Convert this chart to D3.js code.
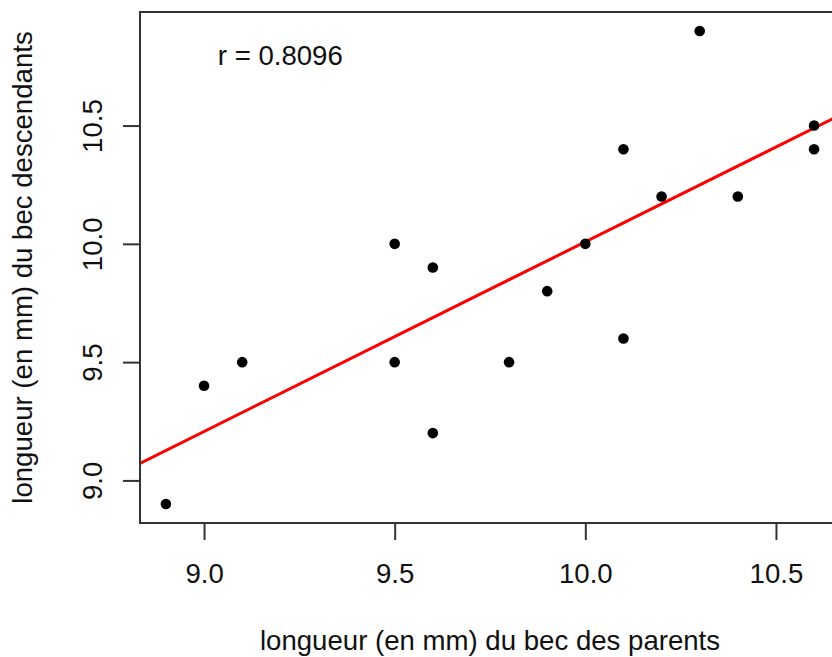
<!DOCTYPE html>
<html>
<head>
<meta charset="utf-8">
<script src="https://cdn.jsdelivr.net/npm/d3@7"></script>
<style>
  body { margin: 0; background: #fff; }
  svg { display: block; font-family: "Liberation Sans", Arial, sans-serif; }
</style>
</head>
<body>
<script>
const WIDTH = 832;
const HEIGHT = 657;
const LEFT = 140, RIGHT = 840, TOP = 12, BOTTOM = 523;
const FONT = 27.6;

// longueur du bec : parents (x) / descendants (y)
var parents =     [8.9, 9.0, 9.1, 9.5, 9.5,  9.6, 9.6, 9.8, 9.9, 10.0, 10.1, 10.1, 10.2, 10.3, 10.4, 10.6, 10.6];
var descendants = [8.9, 9.4, 9.5, 10.0, 9.5, 9.9, 9.2, 9.5, 9.8, 10.0, 10.4, 9.6, 10.2, 10.9, 10.2, 10.5, 10.4];
var xTicks = [9.0, 9.5, 10.0, 10.5];
var yTicks = [9.0, 9.5, 10.0, 10.5];
var rLabel = 'r = 0.8096';
var xTitle = 'longueur (en mm) du bec des parents';
var yTitle = 'longueur (en mm) du bec descendants';

var points = parents.map(function(d, i) { return {x: d, y: descendants[i]}; });

// least squares fit (abline(lm(y ~ x)))
var mx = d3.mean(parents), my = d3.mean(descendants);
var sxy = d3.sum(points, function(p) { return (p.x - mx) * (p.y - my); });
var sxx = d3.sum(points, function(p) { return (p.x - mx) * (p.x - mx); });
var slope = sxy / sxx;
var intercept = my - slope * mx;

// R style range: data extent plus 4%
var pad = function(ext) { var r = ext[1] - ext[0]; return [ext[0] - 0.04 * r, ext[1] + 0.04 * r]; };

var xScale = d3.scaleLinear().domain(pad(d3.extent(parents))).range([LEFT, RIGHT]);
var yScale = d3.scaleLinear().domain(pad(d3.extent(descendants))).range([BOTTOM, TOP]);

var svg = d3.select('body').append('svg')
    .attr('width', WIDTH)
    .attr('height', HEIGHT);

svg.append('clipPath').attr('id', 'plotArea')
  .append('rect')
    .attr('x', LEFT).attr('y', TOP)
    .attr('width', RIGHT - LEFT).attr('height', BOTTOM - TOP);

// regression line
var xd = xScale.domain();
svg.append('line')
    .attr('clip-path', 'url(#plotArea)')
    .attr('x1', xScale(xd[0])).attr('y1', yScale(intercept + slope * xd[0]))
    .attr('x2', xScale(xd[1])).attr('y2', yScale(intercept + slope * xd[1]))
    .attr('stroke', '#ff0000')
    .attr('stroke-width', 3);

svg.selectAll('circle.pt')
    .data(points)
    .enter()
    .append('circle')
    .attr('class', 'pt')
    .attr('cx', function(d) { return xScale(d.x); })
    .attr('cy', function(d) { return yScale(d.y); })
    .attr('r', 5.3)
    .attr('fill', '#000');

// box
svg.append('rect')
    .attr('x', LEFT).attr('y', TOP)
    .attr('width', RIGHT - LEFT).attr('height', BOTTOM - TOP)
    .attr('fill', 'none')
    .attr('stroke', '#333')
    .attr('stroke-width', 2);

var fmt = d3.format('.1f');

var xAxis = svg.append('g')
    .attr('transform', 'translate(0,' + BOTTOM + ')')
    .call(d3.axisBottom(xScale).tickValues(xTicks).tickFormat(fmt).tickSize(17).tickPadding(23));

var yAxis = svg.append('g')
    .attr('transform', 'translate(' + LEFT + ',0)')
    .call(d3.axisLeft(yScale).tickValues(yTicks).tickFormat(fmt).tickSize(17));

[xAxis, yAxis].forEach(function(ax) {
    ax.select('.domain').remove();
    ax.selectAll('.tick line').attr('stroke', '#333').attr('stroke-width', 2);
    ax.selectAll('.tick text').attr('font-size', FONT).attr('fill', '#111')
        .attr('font-family', '"Liberation Sans", Arial, sans-serif');
});

yAxis.selectAll('.tick text')
    .attr('transform', 'rotate(-90)')
    .attr('text-anchor', 'middle')
    .attr('x', 0)
    .attr('y', -38)
    .attr('dy', 0);

svg.append('text')
    .attr('x', xScale(9.2))
    .attr('y', yScale(10.8))
    .attr('dy', '0.36em')
    .attr('text-anchor', 'middle')
    .attr('font-size', FONT)
    .attr('fill', '#111')
    .text(rLabel);

svg.append('text')
    .attr('x', (LEFT + RIGHT) / 2)
    .attr('y', 650)
    .attr('text-anchor', 'middle')
    .attr('font-size', FONT)
    .attr('fill', '#111')
    .text(xTitle);

svg.append('text')
    .attr('transform', 'translate(32,' + (TOP + BOTTOM) / 2 + ') rotate(-90)')
    .attr('text-anchor', 'middle')
    .attr('font-size', FONT)
    .attr('fill', '#111')
    .text(yTitle);
</script>
</body>
</html>
